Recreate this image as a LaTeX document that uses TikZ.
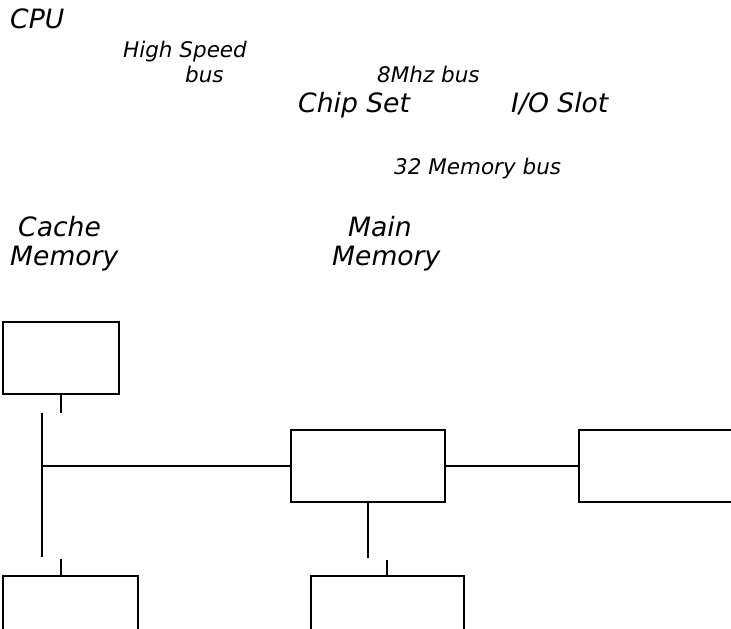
\documentclass[tikz,border=0pt]{standalone}
\usepackage{fontspec}
\setmainfont{DejaVu Sans}
\begin{document}
\begin{tikzpicture}[x=1pt,y=-1pt,
  box/.style={draw,line width=2.7pt,inner sep=0pt,rectangle},
  wire/.style={line width=2.7pt},
  big/.style={anchor=base west,inner sep=0pt,font=\fontsize{26.6}{31}\selectfont\itshape},
  small/.style={anchor=base west,inner sep=0pt,font=\fontsize{21.5}{25}\selectfont\itshape}]
\useasboundingbox (0,0) rectangle (731,629);
\clip (0,0) rectangle (731,629);
% labels
\node[big] (tcpu) at (10,28) {CPU};
\node[small] (ths) at (123,57) {High Speed};
\node[small] (thsb) at (185,82) {bus};
\node[small] (t8) at (377,82) {8Mhz bus};
\node[big] (tchip) at (298,112) {Chip Set};
\node[big] (tio) at (511,112) {I/O Slot};
\node[small] (t32) at (394,174) {32 Memory bus};
\node[big] (tcache) at (18,236) {Cache};
\node[big] (tcachem) at (10,265) {Memory};
\node[big] (tmain) at (348,236) {Main};
\node[big] (tmainm) at (332,265) {Memory};
% boxes
\node[box,minimum width=116pt,minimum height=72pt] (cache) at (61,358) {};
\node[box,minimum width=154pt,minimum height=72pt] (chip) at (368,466) {};
\node[box,minimum width=200pt,minimum height=72pt] (io) at (679,466) {};
\node[box,minimum width=153pt,minimum height=84pt] (mainmem) at (387.5,618) {};
\node[box,minimum width=135pt,minimum height=84pt] (cpu) at (70.5,618) {};
% free ends
\coordinate (cs) at (61,413);
\coordinate (vt) at (42,413);
\coordinate (vb) at (42,557);
\coordinate (vj) at (42,466);
\coordinate (chs) at (368,558);
\coordinate (mms) at (387,560);
\coordinate (bls) at (61,559);
% connectors
\draw[wire] (cache.south) -- (cs);
\draw[wire] (vt) -- (vb);
\draw[wire] (vj) -- (chip.west);
\draw[wire] (chip.east) -- (io.west);
\draw[wire] (chip.south) -- (chs);
\draw[wire] (mms) -- (mms |- mainmem.north);
\draw[wire] (bls) -- (bls |- cpu.north);
\end{tikzpicture}
\end{document}
